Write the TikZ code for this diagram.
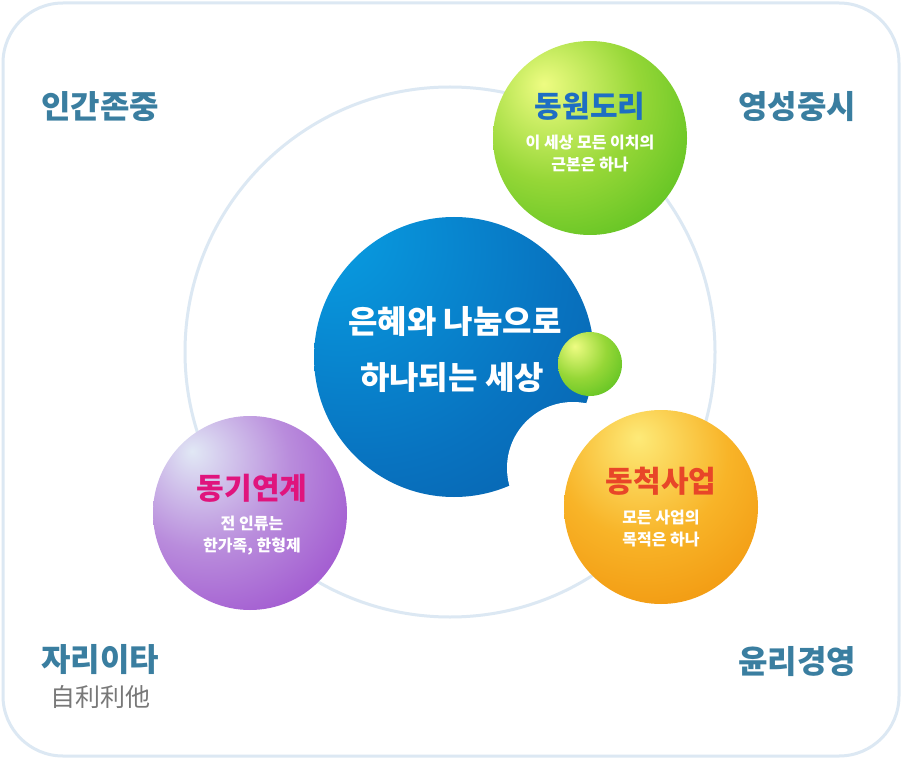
\documentclass[tikz,border=0pt]{standalone}
\usepackage{fontspec}
\setmainfont{Noto Sans CJK KR}
\pgfdeclareradialshading{gball}{\pgfpoint{-12bp}{14bp}}{color(0bp)=(rgb,255:red,238;green,252;blue,130); color(22bp)=(rgb,255:red,150;green,215;blue,55); color(45bp)=(rgb,255:red,78;green,188;blue,28); color(100bp)=(rgb,255:red,70;green,180;blue,25)}
\pgfdeclareradialshading{oball}{\pgfpoint{-6bp}{18bp}}{color(0bp)=(rgb,255:red,253;green,234;blue,120); color(22bp)=(rgb,255:red,248;green,180;blue,40); color(45bp)=(rgb,255:red,240;green,145;blue,10); color(100bp)=(rgb,255:red,238;green,140;blue,8)}
\pgfdeclareradialshading{pball}{\pgfpoint{-15bp}{16bp}}{color(0bp)=(rgb,255:red,225;green,232;blue,245); color(22bp)=(rgb,255:red,185;green,140;blue,220); color(45bp)=(rgb,255:red,155;green,75;blue,205); color(100bp)=(rgb,255:red,150;green,70;blue,200)}
\pgfdeclareradialshading{bball}{\pgfpoint{-25bp}{25bp}}{color(0bp)=(rgb,255:red,8;green,160;blue,228); color(35bp)=(rgb,255:red,8;green,115;blue,192); color(70bp)=(rgb,255:red,6;green,80;blue,155); color(100bp)=(rgb,255:red,5;green,75;blue,150)}
\definecolor{ringc}{RGB}{220,232,243}
\definecolor{teal}{RGB}{58,126,160}
\tikzset{
  corner/.style={text=teal,font=\fontsize{32}{32}\selectfont\bfseries},
  title/.style={font=\fontsize{30}{30}\selectfont\bfseries},
  sub/.style={text=white,font=\fontsize{16}{22}\selectfont\bfseries,align=center},
}
\begin{document}
\begin{tikzpicture}[x=1pt,y=-1pt]
\useasboundingbox[fill=white] (0,0) rectangle (902,759);
\draw[ringc,line width=3, rounded corners=60] (3,3) rectangle (899,756);
\draw[ringc,line width=3] (450,352) circle[radius=265];
\shade[shading=bball] (454,357) circle[radius=140];
\fill[white] (573,468) circle[radius=66];
\shade[shading=gball] (590,138) circle[radius=97];
\shade[shading=oball] (661,507) circle[radius=97];
\shade[shading=pball] (250,513) circle[radius=97];
\shade[shading=gball] (590,364) circle[radius=32];
\node[text=white,font=\fontsize{32}{32}\selectfont\bfseries] (c1) at (455,322) {은혜와 나눔으로};
\node[text=white,font=\fontsize{32}{32}\selectfont\bfseries] (c2) at (452,378) {하나되는 세상};
\node[title,text={rgb,255:red,30;green,110;blue,195}] (g1) at (590,106) {동원도리};
\node[sub] (g2) at (590,154) {이 세상 모든 이치의\\근본은 하나};
\node[title,text={rgb,255:red,232;green,70;blue,40}] (o1) at (661,481) {동척사업};
\node[sub] (o2) at (661,528) {모든 사업의\\목적은 하나};
\node[title,text={rgb,255:red,224;green,20;blue,125}] (p1) at (252,488) {동기연계};
\node[sub] (p2) at (252,536) {전 인류는\\한가족, 한형제};
\node[corner] (a) at (100,107) {인간존중};
\node[corner] (b) at (797,107) {영성중시};
\node[corner] (d) at (100,660) {자리이타};
\node[text={rgb,255:red,120;green,120;blue,120},font=\fontsize{25}{25}\selectfont] (d2) at (100,697) {自利利他};
\node[corner] (e) at (797,662) {윤리경영};
\end{tikzpicture}
\end{document}
